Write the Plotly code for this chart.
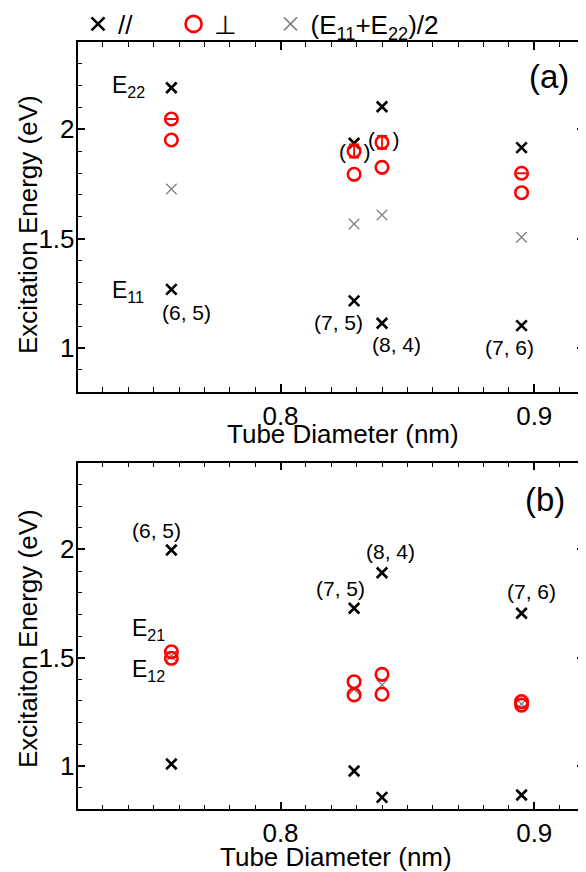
import plotly.graph_objects as go

# ---------------- data ----------------
diameter = [0.757, 0.829, 0.840, 0.895]          # nm
chirality = ["(6, 5)", "(7, 5)", "(8, 4)", "(7, 6)"]

# panel (a)
a_E22_par = [2.190, 1.936, 2.103, 1.916]
a_E11_par = [1.268, 1.215, 1.113, 1.102]
a_perp_hi = [2.047, 1.901, 1.940, 1.799]
a_perp_lo = [1.951, 1.794, 1.826, 1.710]
a_perp_hi_err = [0.0, 0.03, 0.03, 0.0]
a_avg = [1.727, 1.567, 1.608, 1.506]

# panel (b)
b_par_hi = [1.997, 1.728, 1.892, 1.705]
b_par_lo = [1.009, 0.977, 0.855, 0.866]
b_perp_E21 = [1.527, 1.389, 1.423, 1.297]
b_perp_E12 = [1.497, 1.328, 1.331, 1.281]
b_avg = [1.508, 1.354, 1.374, 1.286]

# label positions (data coords)
a_lab_x = [0.7628, 0.8230, 0.8458, 0.8904]
a_lab_y = [1.161, 1.116, 1.014, 1.003]
b_lab_x = [0.7512, 0.8237, 0.8434, 0.8990]
b_lab_y = [2.089, 1.820, 1.989, 1.804]

legend_names = ["//", "⊥", "(E<sub>11</sub>+E<sub>22</sub>)/2"]

FONT = "Liberation Sans, Arial, sans-serif"
OFF = 8                      # page body margin
W, H = 586 - OFF, 872 - OFF
NB = "\u00a0"


def fx(p):
    return (p - OFF) / W


def fy(p):
    return 1 - (p - OFF) / H


BLACK_X = dict(symbol="x-thin", size=10.5, color="black", line=dict(color="black", width=2.6))
GRAY_X = dict(symbol="x-thin", size=10.5, color="#808080", line=dict(color="#808080", width=1.3))
RED_O = dict(symbol="circle-open", size=12.5, color="red", line=dict(color="red", width=2.6))

fig = go.Figure()


def add_panel(xa, ya, avg, par_list, perp_list, perp_err=None):
    fig.add_trace(go.Scatter(x=diameter, y=avg, mode="markers", marker=GRAY_X,
                             xaxis=xa, yaxis=ya, showlegend=False))
    for p in par_list:
        fig.add_trace(go.Scatter(x=diameter, y=p, mode="markers", marker=BLACK_X,
                                 xaxis=xa, yaxis=ya, showlegend=False))
    for i, p in enumerate(perp_list):
        kw = {}
        if perp_err is not None and i == 0:
            kw["error_y"] = dict(type="data", array=perp_err, color="red",
                                 thickness=1.8, width=5)
        fig.add_trace(go.Scatter(x=diameter, y=p, mode="markers", marker=RED_O,
                                 xaxis=xa, yaxis=ya, showlegend=False, **kw))


add_panel("x", "y", a_avg, [a_E22_par, a_E11_par], [a_perp_hi, a_perp_lo], a_perp_hi_err)
add_panel("x2", "y2", b_avg, [b_par_hi, b_par_lo], [b_perp_E21, b_perp_E12])

# legend-only entries
fig.add_trace(go.Scatter(x=[None], y=[None], mode="markers", name=legend_names[0] + NB * 5,
                         marker=dict(symbol="x-thin", size=13, color="black",
                                     line=dict(color="black", width=2.6))))
fig.add_trace(go.Scatter(x=[None], y=[None], mode="markers", name=legend_names[1] + NB * 4,
                         marker=dict(symbol="circle-open", size=16, color="red",
                                     line=dict(color="red", width=2.6))))
fig.add_trace(go.Scatter(x=[None], y=[None], mode="markers", name=legend_names[2],
                         marker=dict(symbol="x-thin", size=13, color="#808080",
                                     line=dict(color="#808080", width=1.5))))

xdom = [fx(77.5), fx(585)]
ydom_a = [fy(391.7), fy(41.8)]
ydom_b = [fy(809.3), fy(462.7)]

xcommon = dict(range=[0.72, 0.92], domain=xdom, showline=True, linecolor="black",
               linewidth=1.5, mirror="ticks", ticks="inside", ticklen=8, tickwidth=1.5,
               tickcolor="black", tick0=0.8, dtick=0.1, tickformat=".1f",
               minor=dict(dtick=0.01, ticks="inside", ticklen=5, tickwidth=1.2,
                          tickcolor="black"),
               showgrid=False, zeroline=False, automargin=False,
               tickfont=dict(family=FONT, size=26, color="black"))
ycommon = dict(range=[0.8, 2.4], showline=True, linecolor="black",
               linewidth=1.5, mirror="ticks", ticks="inside", ticklen=8, tickwidth=1.5,
               tickcolor="black", ticklabelstandoff=-4,
               tickvals=[1, 1.5, 2], ticktext=["1", "1.5", "2"],
               minor=dict(dtick=0.1, tick0=0.8, ticks="inside", ticklen=5, tickwidth=1.2,
                          tickcolor="black"),
               showgrid=False, zeroline=False, automargin=False,
               tickfont=dict(family=FONT, size=26, color="black"))

annotations = []


def add_text(x, y, text, size, xref, yref, angle=0):
    annotations.append(dict(x=x, y=y, text=text, xref=xref, yref=yref, showarrow=False,
                            xanchor="center", yanchor="middle", textangle=angle,
                            font=dict(family=FONT, size=size, color="black")))


for lx, ly, t in zip(a_lab_x, a_lab_y, chirality):
    add_text(lx, ly, t, 21, "x", "y")
for lx, ly, t in zip(b_lab_x, b_lab_y, chirality):
    add_text(lx, ly, t, 21, "x2", "y2")

add_text(0.7399, 2.195, "E<sub>22</sub>", 23, "x", "y")
add_text(0.7399, 1.257, "E<sub>11</sub>", 23, "x", "y")
add_text(0.8294, 1.898, "(" + NB * 3 + ")", 21, "x", "y")
add_text(0.8407, 1.951, "(" + NB * 3 + ")", 21, "x", "y")
add_text(0.9058, 2.24, "(a)", 33, "x", "y")

add_text(0.7478, 1.628, "E<sub>21</sub>", 23, "x2", "y2")
add_text(0.7478, 1.443, "E<sub>12</sub>", 23, "x2", "y2")
add_text(0.9042, 2.228, "(b)", 33, "x2", "y2")

# axis titles
add_text(fx(28), fy(225), "Excitation Energy (eV)", 26, "paper", "paper", -90)
add_text(fx(28), fy(639), "Excitaiton Energy (eV)", 26, "paper", "paper", -90)
add_text(fx(343), fy(434), "Tube Diameter (nm)", 26, "paper", "paper")
add_text(fx(336), fy(857), "Tube Diameter (nm)", 26, "paper", "paper")

fig.update_layout(
    template="none",
    width=W, height=H,
    margin=dict(l=0, r=0, t=0, b=0, autoexpand=False),
    paper_bgcolor="white", plot_bgcolor="white",
    xaxis=dict(xcommon, anchor="y"),
    yaxis=dict(ycommon, domain=ydom_a, anchor="x"),
    xaxis2=dict(xcommon, anchor="y2"),
    yaxis2=dict(ycommon, domain=ydom_b, anchor="x2"),
    annotations=annotations,
    showlegend=True,
    legend=dict(orientation="h", x=fx(78), y=fy(24), xanchor="left", yanchor="middle",
                font=dict(family=FONT, size=26, color="black"),
                bgcolor="rgba(0,0,0,0)", borderwidth=0, itemclick=False),
)

fig.write_html("out.html")
